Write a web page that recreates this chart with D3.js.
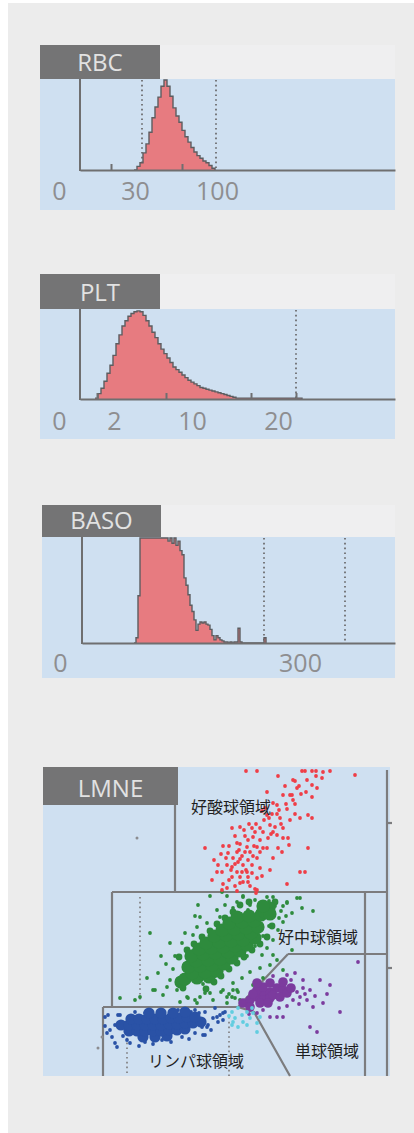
<!DOCTYPE html>
<html><head><meta charset="utf-8">
<script src="https://cdn.jsdelivr.net/npm/d3@7"></script>
<style>html,body{margin:0;padding:0;background:#fff;} svg{display:block;}</style>
</head><body>
<script>
// ---------------- DATA ----------------
// Histograms: channel of first bin, bin width (channels), counts (% of full scale)
const rbcFirstChannel = 94, rbcBinWidth = 3;
const rbcCounts = [0,4,8,19,29,42,58,70,81,93,100,93,82,69,60,53,44,37,31,25,20,16,13,10,8,5,2,0];
const rbcDotted = [102,176];
const rbcTicks = [71,142];
const rbcLabelChannels = [19,95,177];
const rbcLabels = ["0","30","100"];

const pltFirstChannel = 55, pltBinWidth = 3;
const pltCounts = [1,6,12,20,29,38,49,62,72,82,88,93,96,98,99,98,94,88,82,75,69,62,56,51,46,41,36,33,30,27,24,21,19,17,15,13,12,11,10,9,8,7,6,5,4,3,2,1,
  1,1,1,1,1,1,1,1,1,1,1,1,1,1,1,1,1,1,1,1,1,0];
const pltDotted = [256];
const pltTicks = [57,126,211,256];
const pltLabelChannels = [19,74,152,238];
const pltLabels = ["0","2","10","20"];

const basoFirstChannel = 94, basoBinWidth = 2;
const basoCounts = [0,5,45,100,100,100,100,100,100,100,
  100,100,100,100,100,100,100,97,100,95,
  100,93,97,88,84,62,55,46,36,30,
  22,12,18,20,19,20,18,17,13,7,
  3,7,5,3,2,1,1,0,1,0,
  1,1,14,1,0,0,0,0,0,0,
  0,0,0,0,0,5,0];
const basoDotted = [105,224,305];
const basoTicks = [];
const basoLabelChannels = [20,260];
const basoLabels = ["0","300"];

// LMNE scatter (x: volume channel, y: light scatter channel)
const eosPoints = [[203,305],[214,305],[259,305],[262,305],[269,305],[273,305],[280,304],[287,305],[312,301],[235,300],[273,300],[279,298],[250,296],[252,295],[269,291],[274,288],[254,288],[224,284],[240,281],[247,281],[263,284],[269,279],[250,276],[252,272],[230,273],[234,271],[222,268],[244,267],[219,265],[224,261],[234,262],[252,262],[257,258],[265,261],[269,258],[247,256],[237,258],[189,248],[197,249],[206,252],[209,248],[217,248],[227,251],[232,249],[240,248],[220,244],[230,244],[234,241],[240,238],[245,238],[202,240],[210,239],[217,236],[225,238],[205,236],[194,233],[197,232],[180,230],[162,228],[204,229],[214,229],[220,228],[224,228],[235,228],[265,228],[185,223],[194,224],[202,224],[207,224],[217,224],[190,218],[197,217],[205,216],[214,218],[200,211],[175,211],[184,211],[189,209],[209,211],[217,208],[227,206],[194,204],[199,204],[204,204],[174,204],[179,204],[257,204],[262,204],[189,199],[197,199],[205,199],[214,198],[169,196],[197,193],[205,194],[180,192],[184,188],[244,192],[194,185],[212,187],[213,183],[200,194],[228,242],[212,244],[196,226],[188,206],[179,186],[214,186],[242,290],[258,282],[226,258],[238,252],[211,230],[199,220],[192,212],[209,203],
  [186,230],[192,240],[201,246],[213,252],[221,256],[229,262],[236,266],[243,272],[249,281],[256,290],[264,296],[210,220],[203,206],[195,214],[183,218],[178,222],[171,216],[186,196],[192,190],[207,190],[219,200],[230,218],[239,224],[246,231]];
const neutroCore = [[138,94],[142,97],[154,98],[149,103],[145,109],[166,99],[162,104],[157,110],[153,115],[148,120],[174,105],[169,111],[165,116],[160,122],[156,127],[181,112],[177,117],[172,123],[168,128],[163,133],[189,118],[185,124],[180,129],[176,134],[171,140],[197,125],[192,130],[188,135],[183,141],[179,146],[204,131],[200,136],[195,142],[191,147],[186,153],[212,138],[208,143],[203,148],[199,154],[194,159],[215,149],[211,155],[206,160],[218,161],[222,164],[226,168],[227,162],[220,170]];
const neutroEdge = [[144,126],[171,94],[151,132],[178,100],[159,139],[186,107],[167,145],[194,113],[174,152],[201,119],[182,158],[209,126],[190,164],[217,132],[197,171],[224,139],[136,119],[163,87],[232,174],[229,150],[140,88],[206,174]];
const neutroPoints = [[167,180],[184,180],[200,179],[219,173],[230,179],[244,173],[254,178],[259,168],[249,163],[240,154],[235,146],[230,136],[224,128],[219,121],[234,116],[227,111],[217,108],[207,104],[199,98],[190,93],[180,86],[167,83],[157,79],[145,78],[134,86],[127,96],[124,89],[115,103],[112,86],[107,143],[127,133],[139,133],[142,143],[150,141],[154,149],[164,153],[157,159],[174,166],[177,159],[155,171],[182,171],[194,174],[207,171],[77,78],[97,79],[144,79],[154,73],[170,76],[184,79],[194,86],[210,91],[220,98],[249,126],[230,121],[240,106],[92,76],[110,86],[120,81],[137,74],[152,76],[162,83],[189,79],[195,84],[199,73],[184,73],[179,184],[200,180],[224,179],[244,174],[257,178],[270,165],[152,160],[226,175],[232,170],[238,165],[236,158],[228,160],[222,165],[243,160],[240,170],[212,176],[205,166],[198,162],[190,168],[215,165],[186,82],[192,78],[197,76],[190,86],[178,84],[104,98],[118,120],[132,120],[146,100],[160,92],[172,100],[204,120],[212,130],[220,140],[226,150],[160,112],[150,125],[198,150],[206,156],[214,160],[130,107],[123,112]];
const lymphCore = [[100,39],[112,39],[124,40],[86,45],[94,45],[102,45],[110,45],[118,45],[126,46],[134,46],[142,47],[78,51],[86,51],[94,51],[102,51],[110,51],[118,51],[126,52],[134,52],[142,53],[150,53],[158,54],[88,57],[96,57],[104,57],[112,57],[120,57],[128,58],[136,58],[144,59],[152,59],[106,63],[118,63],[130,63],[142,64]];
const lymphPoints = [[65,61],[64,43],[69,39],[72,33],[84,36],[102,34],[119,36],[139,39],[152,43],[162,41],[165,51],[170,58],[177,61],[182,64],[175,54],[162,64],[152,66],[135,66],[119,66],[102,63],[77,61],[72,51],[67,46],[172,68],[180,56],[159,49],[74,29],[87,33],[62,59],[75,61],[160,41],[164,49],[174,59],[180,63],[92,64],[110,32],[128,34],[146,37],[168,46],[62,50],[80,40],[156,63],[148,64],[96,30]];
const monoCore = [[200,73],[207,76],[214,79],[220,83],[227,84],[234,88],[240,86],[220,76],[227,78],[214,86],[220,89],[230,81],[237,79],[207,69],[217,73],[225,73],[244,83],[214,93],[227,93],[240,94],[248,88],[210,82]];
const monoPoints = [[297,64],[315,114],[267,49],[274,44],[287,91],[277,96],[260,96],[252,103],[244,101],[235,88],[227,59],[234,59],[240,59],[220,66],[214,63],[257,79],[264,76],[270,69],[280,73],[260,88],[254,84],[250,76],[267,86],[206,62],[230,100],[248,96],[256,72],[262,82],[272,80],[284,82],[244,70],[236,68]];
const borderPoints = [[189,64],[192,58],[189,51],[195,49],[199,61],[204,64],[207,58],[210,63],[200,54],[214,53],[214,44],[209,68],[195,68],[217,59],[190,54],[204,51],[186,60]];
const strayPoints = [[94,238],[55,28],[59,39]];

const gateLines = [
  [[132,271],[132,184]],
  [[69,184],[344,184]],
  [[344,306],[344,0]],
  [[69,184],[69,69]],
  [[322,184],[322,0]],
  [[245,122],[344,122]],
  [[245,122],[195,69]],
  [[60,69],[195,69]],
  [[60,69],[60,0]],
  [[195,69],[211,64],[247,0]],
  [[344,253],[349,253]],
  [[344,108],[349,108]]
];
const lmneDotted = [[[97,179],[97,76]],[[84,43],[84,0]],[[186,59],[186,0]]];
const regionLabels = ["好酸球領域","好中球領域","単球領域","リンパ球領域"];
const regionLabelPos = [[148,270],[235,140],[252,26],[105,16]];

// ---------------- DRAW ----------------
const W = 414, H = 1133;
const svg = d3.select("body").append("svg").attr("width", W).attr("height", H);
svg.append("rect").attr("x", 8).attr("y", 3).attr("width", W - 8).attr("height", H - 3).attr("fill", "#ececec");

const BLUE = "#cfe0f1", BOX = "#747475", AX = "#6f6f70", FILL = "#e77b80";
const LATIN = "'Open Sans', 'Noto Sans', sans-serif";

function boxLabel(x0, y0, x1, y1, text) {
  svg.append("rect").attr("x", x0).attr("y", y0).attr("width", x1 - x0).attr("height", y1 - y0).attr("fill", BOX);
  svg.append("text").attr("x", (x0 + x1) / 2).attr("y", y1 - 8).attr("text-anchor", "middle")
    .attr("font-family", LATIN).attr("font-size", 24).attr("fill", "#e2e2e2").text(text);
}

function histPanel(c) {
  svg.append("rect").attr("x", c.boxX1).attr("y", c.boxY0).attr("width", 395 - c.boxX1).attr("height", c.top - c.boxY0).attr("fill", "#efeff0");
  svg.append("rect").attr("x", c.boxX0).attr("y", c.top).attr("width", 395 - c.boxX0).attr("height", c.bottom - c.top).attr("fill", BLUE);
  boxLabel(c.boxX0, c.boxY0, c.boxX1, c.top, c.name);

  const x = d3.scaleLinear().domain([c.axisX - 40, 355]).range([c.axisX, 395]);
  const y = d3.scaleLinear().domain([0, 100]).range([c.base, c.top + 1]);
  const bins = c.counts.map((v, i) => ({ ch: c.first + i * c.width, v: v }));

  const g = svg.append("g");
  g.selectAll("line.dot").data(c.dotted).join("line")
    .attr("x1", d => x(d)).attr("x2", d => x(d)).attr("y1", y(100)).attr("y2", y(0))
    .attr("stroke", "#6e6e70").attr("stroke-width", 1.8).attr("stroke-dasharray", "1.6,3.2");
  const area = d3.area().x(d => x(d.ch)).y0(y(0)).y1(d => y(d.v)).curve(d3.curveStepAfter);
  const line = d3.line().x(d => x(d.ch)).y(d => y(d.v)).curve(d3.curveStepAfter);
  g.append("path").datum(bins).attr("d", area).attr("fill", FILL);
  g.append("path").datum(bins).attr("d", line).attr("fill", "none").attr("stroke", "#5d5d60").attr("stroke-width", 1.4);

  const xa = g.append("g").attr("transform", `translate(0,${c.base})`)
    .call(d3.axisBottom(x).tickValues(c.ticks).tickSizeInner(-6).tickSizeOuter(0).tickFormat(""));
  xa.selectAll("path,line").attr("stroke", AX).attr("stroke-width", 2);
  const ya = g.append("g").attr("transform", `translate(${c.axisX},0)`)
    .call(d3.axisLeft(y).tickValues([]).tickSizeOuter(0));
  ya.select("path").attr("d", `M0,${c.base + 1}V${c.top}`).attr("stroke", AX).attr("stroke-width", 2);

  const la = g.append("g").attr("transform", `translate(0,${c.base})`)
    .call(d3.axisBottom(x).tickValues(c.labelCh).tickSize(0).tickFormat((d, i) => c.labels[i]));
  la.select(".domain").remove();
  la.selectAll("text").attr("y", c.labelOff).attr("dy", null)
    .attr("font-family", LATIN).attr("font-size", 25).attr("fill", "#8e8e90");
}

histPanel({ name: "RBC", boxX0: 40, boxX1: 160, boxY0: 45, top: 79, bottom: 210, base: 170, axisX: 80,
  first: rbcFirstChannel, width: rbcBinWidth, counts: rbcCounts, dotted: rbcDotted, ticks: rbcTicks,
  labelCh: rbcLabelChannels, labels: rbcLabels, labelOff: 30 });
histPanel({ name: "PLT", boxX0: 40, boxX1: 160, boxY0: 274, top: 309, bottom: 439, base: 399, axisX: 80,
  first: pltFirstChannel, width: pltBinWidth, counts: pltCounts, dotted: pltDotted, ticks: pltTicks,
  labelCh: pltLabelChannels, labels: pltLabels, labelOff: 31 });
histPanel({ name: "BASO", boxX0: 42, boxX1: 161, boxY0: 505, top: 537, bottom: 678, base: 643, axisX: 82,
  first: basoFirstChannel, width: basoBinWidth, counts: basoCounts, dotted: basoDotted, ticks: basoTicks,
  labelCh: basoLabelChannels, labels: basoLabels, labelOff: 29 });

(function () {
  svg.append("rect").attr("x", 43).attr("y", 767).attr("width", 390 - 43).attr("height", 1076 - 767).attr("fill", BLUE);
  const x = d3.scaleLinear().domain([0, 350]).range([43, 393]);
  const y = d3.scaleLinear().domain([0, 310]).range([1076, 766]);
  const g = svg.append("g");
  const ln = d3.line().x(d => x(d[0])).y(d => y(d[1]));
  g.selectAll("path.dot").data(lmneDotted).join("path").attr("d", ln).attr("fill", "none")
    .attr("stroke", "#858587").attr("stroke-width", 1.8).attr("stroke-dasharray", "1.6,3.2");
  g.selectAll("path.gate").data(gateLines).join("path").attr("d", ln).attr("fill", "none")
    .attr("stroke", "#7c7c7e").attr("stroke-width", 2.2);

  const groups = [
    { pts: strayPoints, color: "#8c8c90", r: 1.5 },
    { pts: neutroPoints, color: "#2e8b3d", r: 1.9 },
    { pts: neutroEdge, color: "#2e8b3d", r: 3.4 },
    { pts: neutroCore, color: "#2e8b3d", r: 6.6 },
    { pts: eosPoints, color: "#ef3e47", r: 1.9 },
    { pts: lymphPoints, color: "#2a52a6", r: 1.9 },
    { pts: lymphCore, color: "#2a52a6", r: 5.6 },
    { pts: monoPoints, color: "#7c3b9e", r: 1.9 },
    { pts: monoCore, color: "#7c3b9e", r: 4.8 },
    { pts: borderPoints, color: "#62cde0", r: 1.9 }
  ];
  groups.forEach(gr => {
    g.append("g").selectAll("circle").data(gr.pts).join("circle")
      .attr("cx", d => x(d[0])).attr("cy", d => y(d[1])).attr("r", gr.r).attr("fill", gr.color);
  });

  g.selectAll("text.reg").data(regionLabels).join("text")
    .attr("x", (d, i) => x(regionLabelPos[i][0])).attr("y", (d, i) => y(regionLabelPos[i][1]))
    .attr("dominant-baseline", "central")
    .attr("font-family", "'Noto Sans CJK JP', sans-serif").attr("font-size", 16).attr("fill", "#1f1f1f")
    .text(d => d);

  boxLabel(43, 767, 178, 805, "LMNE");
})();
</script>
</body></html>
